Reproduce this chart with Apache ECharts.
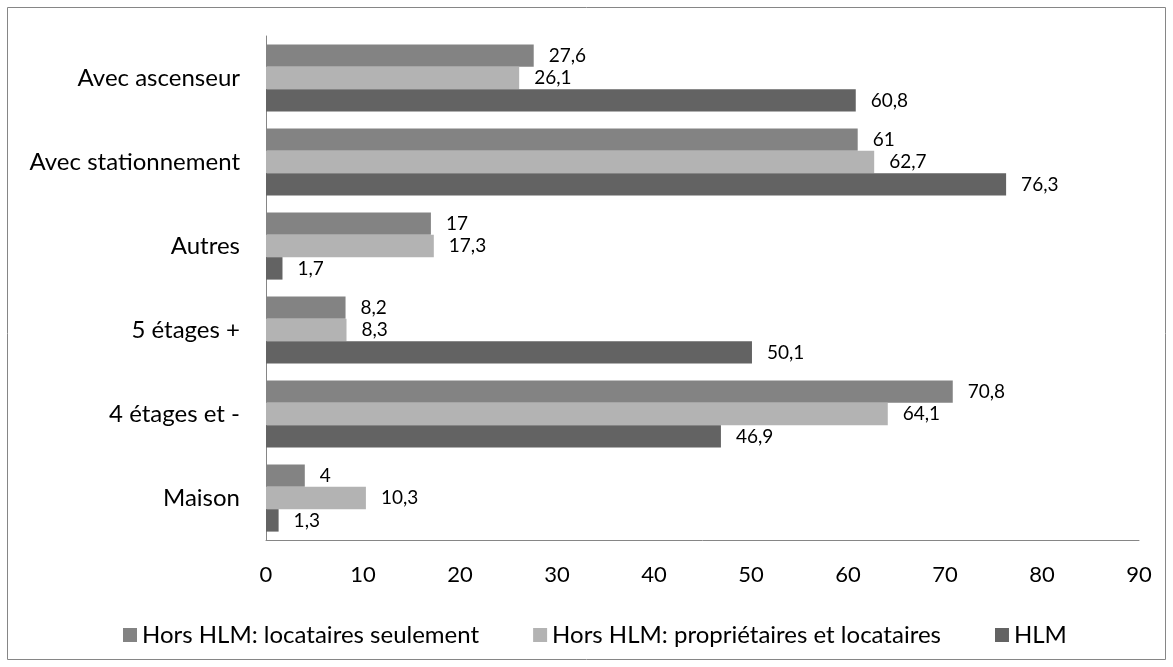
<!DOCTYPE html>
<html>
<head>
<meta charset="utf-8">
<script src="https://cdn.jsdelivr.net/npm/echarts@6/dist/echarts.min.js"></script>
<style>
  html, body { margin: 0; padding: 0; background: #fff; }
  #chart { width: 1173px; height: 667px; }
</style>
</head>
<body>
<div id="chart"></div>
<script>
// Types de logement (de haut en bas)
const categories = ['Avec ascenseur', 'Avec stationnement', 'Autres', '5 étages +', '4 étages et -', 'Maison'];
const seriesNames = ['Hors HLM: locataires seulement', 'Hors HLM: propriétaires et locataires', 'HLM'];
const locatairesSeulement = [27.6, 61, 17, 8.2, 70.8, 4];
const proprietairesEtLocataires = [26.1, 62.7, 17.3, 8.3, 64.1, 10.3];
const hlm = [60.8, 76.3, 1.7, 50.1, 46.9, 1.3];
const xTicks = [0, 10, 20, 30, 40, 50, 60, 70, 80, 90];

const FONT = 'Lato';
const colors = ['#838383', '#b3b3b3', '#636363'];
const values = [locatairesSeulement, proprietairesEtLocataires, hlm];

const fmt = v => String(v).replace('.', ',');

const chart = echarts.init(document.getElementById('chart'), null, { renderer: 'canvas' });

chart.setOption({
  animation: false,
  backgroundColor: '#fff',
  textStyle: { fontFamily: FONT, color: '#000' },
  graphic: [{
    type: 'rect',
    shape: { x: 7.5, y: 7.5, width: 1158, height: 652 },
    style: { fill: 'none', stroke: '#868686', lineWidth: 1 },
    silent: true
  }],
  grid: { left: 266, right: 34, top: 36, bottom: 127, containLabel: false },
  legend: {
    data: seriesNames,
    left: 118,
    top: 618,
    icon: 'rect',
    itemWidth: 14,
    itemHeight: 14,
    itemGap: 54,
    textStyle: { fontFamily: FONT, fontSize: 24, color: '#000' }
  },
  xAxis: {
    type: 'value',
    min: xTicks[0],
    max: xTicks[xTicks.length - 1],
    interval: 10,
    axisLine: { show: true, lineStyle: { color: '#868686', width: 1 } },
    axisTick: { show: false },
    splitLine: { show: false },
    axisLabel: { fontFamily: FONT, fontSize: 22, color: '#000', margin: 24 }
  },
  yAxis: {
    type: 'category',
    data: categories,
    inverse: true,
    axisLine: { show: true, lineStyle: { color: '#868686', width: 1 } },
    axisTick: { show: false },
    axisLabel: { fontFamily: FONT, fontSize: 24, color: '#000', margin: 26 }
  },
  series: seriesNames.map((name, i) => ({
    name,
    type: 'bar',
    data: values[i],
    barGap: '0%',
    barCategoryGap: '20%',
    itemStyle: { color: colors[i] },
    label: {
      show: true,
      position: 'right',
      distance: 15,
      fontFamily: FONT,
      fontSize: 19,
      color: '#000',
      formatter: p => fmt(p.value)
    }
  }))
});
</script>
</body>
</html>
